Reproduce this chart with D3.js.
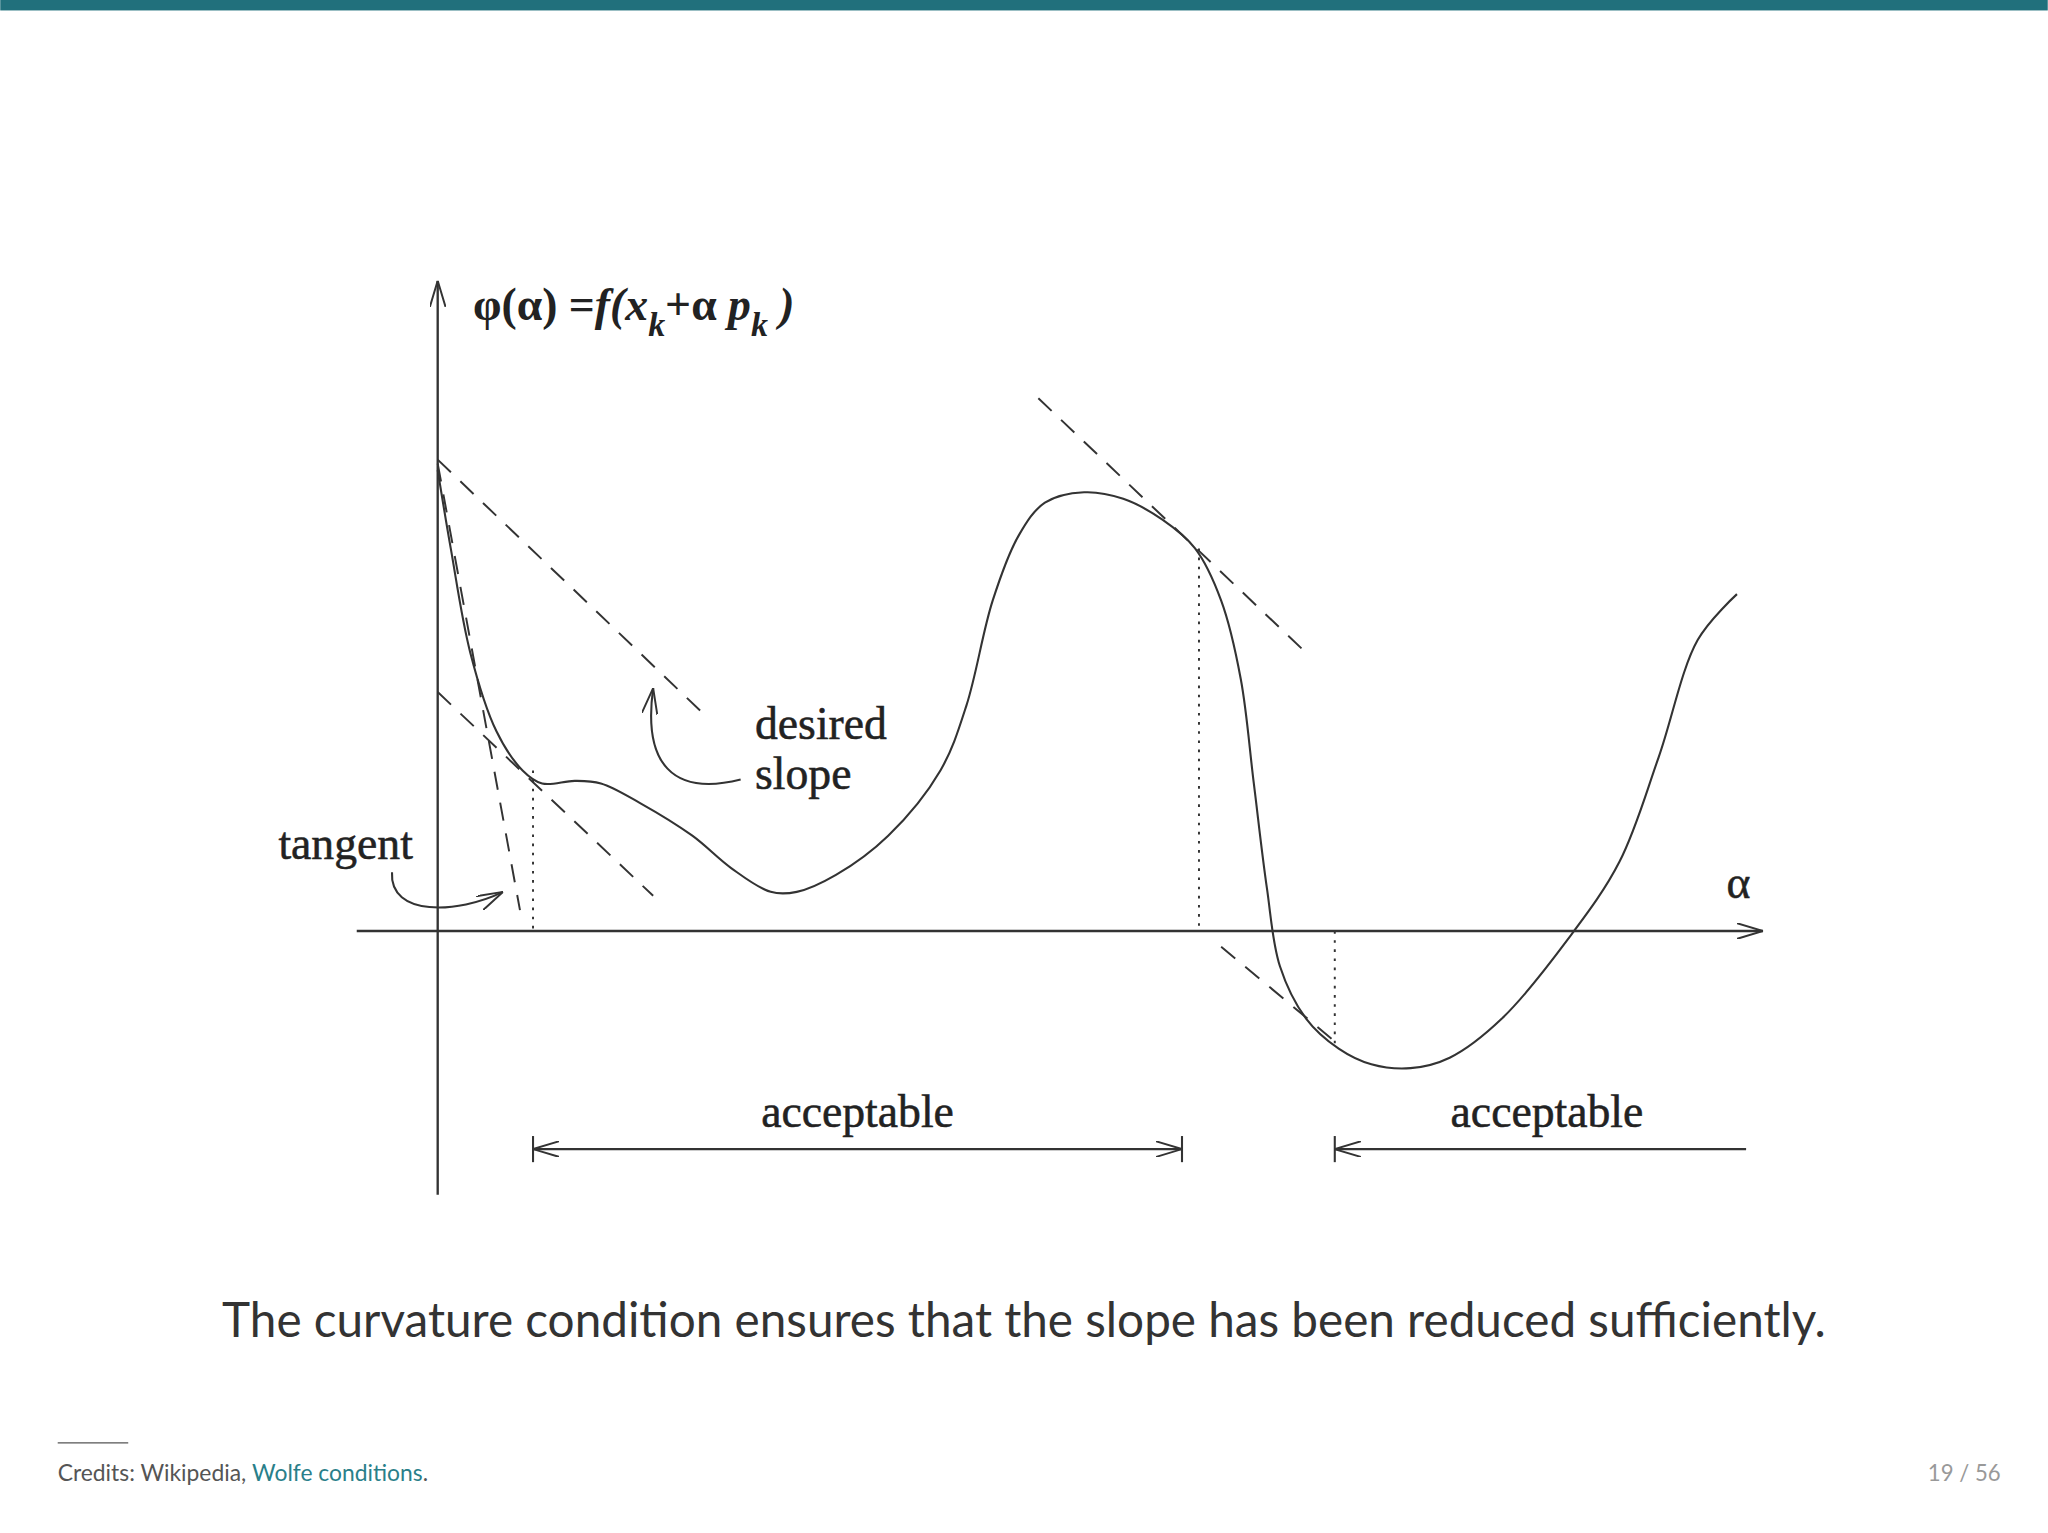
<!DOCTYPE html>
<html><head><meta charset="utf-8">
<script src="https://cdn.jsdelivr.net/npm/d3@7"></script>
<style>body{margin:0;background:#fff}</style></head>
<body><script>
// data in (alpha, phi) units
const curveX=[0,0.1,0.25,0.45,0.65,0.8,1.05,1.25,1.55,1.95,2.25,2.55,2.75,3.05,3.45,3.85,4.05,4.25,4.45,4.65,4.95,5.25,5.55,5.8,6.0,6.15,6.25,6.35,6.45,6.65,6.9,7.15,7.45,7.75,8.15,8.65,9.05,9.35,9.65,9.95];
const curveY=[3.53,2.93,2.13,1.53,1.23,1.13,1.15,1.13,0.98,0.73,0.48,0.30,0.30,0.43,0.73,1.23,1.73,2.53,3.03,3.28,3.36,3.31,3.15,2.93,2.53,1.93,1.13,0.33,-0.27,-0.67,-0.90,-1.02,-1.05,-0.97,-0.67,-0.07,0.53,1.33,2.23,2.58];
const dashedLines=[[[0,3.58],[0.63,0.16]],[[0,3.61],[2.05,1.65]],[[0,1.83],[1.65,0.27]],[[4.6,4.08],[6.62,2.16]],[[6.0,-0.12],[6.9,-0.87]]];
const dottedLines=[[[0.73,1.23],[0.73,0]],[[5.83,2.93],[5.83,0]],[[6.87,0],[6.87,-0.87]]];
const acceptable=[[0.73,5.70],[6.87,10.02]];
const W=1568,H=1174;
const svg=d3.select("body").append("svg").attr("width",2048).attr("height",1533).attr("viewBox",`0 0 ${W} ${H}`);
const x=d3.scaleLinear().domain([0,10]).range([335,1335]);
const y=d3.scaleLinear().domain([0,3.5]).range([713,363]);
svg.append("rect").attr("width",W).attr("height",8).attr("fill","#21707c");
const ink="#333";
const defs=svg.append("defs");
defs.append("marker").attr("id","ar").attr("viewBox","0 0 20 12").attr("refX",20).attr("refY",6).attr("markerWidth",20).attr("markerHeight",12).attr("markerUnits","userSpaceOnUse").attr("orient","auto-start-reverse")
 .append("path").attr("d","M0,0L20,6L0,12").attr("fill","none").attr("stroke",ink).attr("stroke-width",1.5);
const line=d3.line().x(d=>x(d[0])).y(d=>y(d[1]));
svg.append("path").attr("d",line([[-0.62,0],[10.15,0]])).attr("stroke",ink).attr("stroke-width",1.8).attr("marker-end","url(#ar)");
svg.append("path").attr("d",line([[0,-2.02],[0,4.98]])).attr("stroke",ink).attr("stroke-width",1.8).attr("marker-end","url(#ar)");
svg.append("path").attr("d",d3.line().x(d=>x(d[0])).y(d=>y(d[1])).curve(d3.curveCatmullRom)(curveX.map((v,i)=>[v,curveY[i]]))).attr("fill","none").attr("stroke",ink).attr("stroke-width",1.6);
dashedLines.forEach(l=>svg.append("path").attr("d",line(l)).attr("stroke",ink).attr("stroke-width",1.5).attr("stroke-dasharray","14,10"));
dottedLines.forEach(l=>svg.append("path").attr("d",line(l)).attr("stroke",ink).attr("stroke-width",1.5).attr("stroke-dasharray","2,5"));
const ay=-1.67;
acceptable.forEach((a,i)=>{
 const p=svg.append("path").attr("d",line([[a[0],ay],[a[1],ay]])).attr("stroke",ink).attr("stroke-width",1.6).attr("marker-start","url(#ar)");
 if(i===0)p.attr("marker-end","url(#ar)");
 svg.append("path").attr("d",line([[a[0],ay+0.1],[a[0],ay-0.1]])).attr("stroke",ink).attr("stroke-width",1.6);
 if(i===0)svg.append("path").attr("d",line([[a[1],ay+0.1],[a[1],ay-0.1]])).attr("stroke",ink).attr("stroke-width",1.6);
 svg.append("text").attr("x",x((a[0]+a[1])/2+(i?0.05:0))).attr("y",y(-1.5)).attr("text-anchor","middle").attr("font-family","Liberation Serif").attr("font-size",35).attr("stroke","#222").attr("stroke-width",0.4).attr("fill","#222").text("acceptable");
});
svg.append("path").attr("d","M300,668 C298,702 350,700 385,683").attr("fill","none").attr("stroke",ink).attr("stroke-width",1.6).attr("marker-end","url(#ar)");
svg.append("path").attr("d","M567,597 C515,610 492,585 500,527").attr("fill","none").attr("stroke",ink).attr("stroke-width",1.6).attr("marker-end","url(#ar)");
const serif=(t,px,py,fs)=>svg.append("text").attr("x",px).attr("y",py).attr("font-family","Liberation Serif").attr("font-size",fs).attr("stroke","#222").attr("stroke-width",0.4).attr("fill","#222").text(t);
serif("desired",578,566,35);serif("slope",578,604,35);serif("tangent",213,658,35);serif("α",1322,688,35);
const f=svg.append("text").attr("x",362).attr("y",245).attr("font-family","Liberation Serif").attr("font-size",35).attr("font-weight","bold").attr("fill","#222");
f.append("tspan").text("φ(α) =");
f.append("tspan").attr("font-style","italic").text("f(x");
f.append("tspan").attr("font-style","italic").attr("font-size",26).attr("dy",12).text("k");
f.append("tspan").attr("dy",-12).text("+α ");
f.append("tspan").attr("font-style","italic").text("p");
f.append("tspan").attr("font-style","italic").attr("font-size",26).attr("dy",12).text("k");
f.append("tspan").attr("dy",-12).attr("font-style","italic").text(" )");
svg.append("text").attr("x",784).attr("y",1024).attr("text-anchor","middle").attr("font-family","Lato").attr("font-size",36.5).attr("fill","#333").text("The curvature condition ensures that the slope has been reduced sufficiently.");
svg.append("line").attr("x1",44).attr("x2",98).attr("y1",1105).attr("y2",1105).attr("stroke","#555").attr("stroke-width",1);
const c=svg.append("text").attr("x",44).attr("y",1134).attr("font-family","Lato").attr("font-size",17.5).attr("fill","#555");
c.append("tspan").text("Credits: Wikipedia, ");c.append("tspan").attr("fill","#2a7f8a").text("Wolfe conditions");c.append("tspan").text(".");
svg.append("text").attr("x",1532).attr("y",1134).attr("text-anchor","end").attr("font-family","Lato").attr("font-size",17).attr("fill","#999").text("19 / 56");
</script></body></html>
